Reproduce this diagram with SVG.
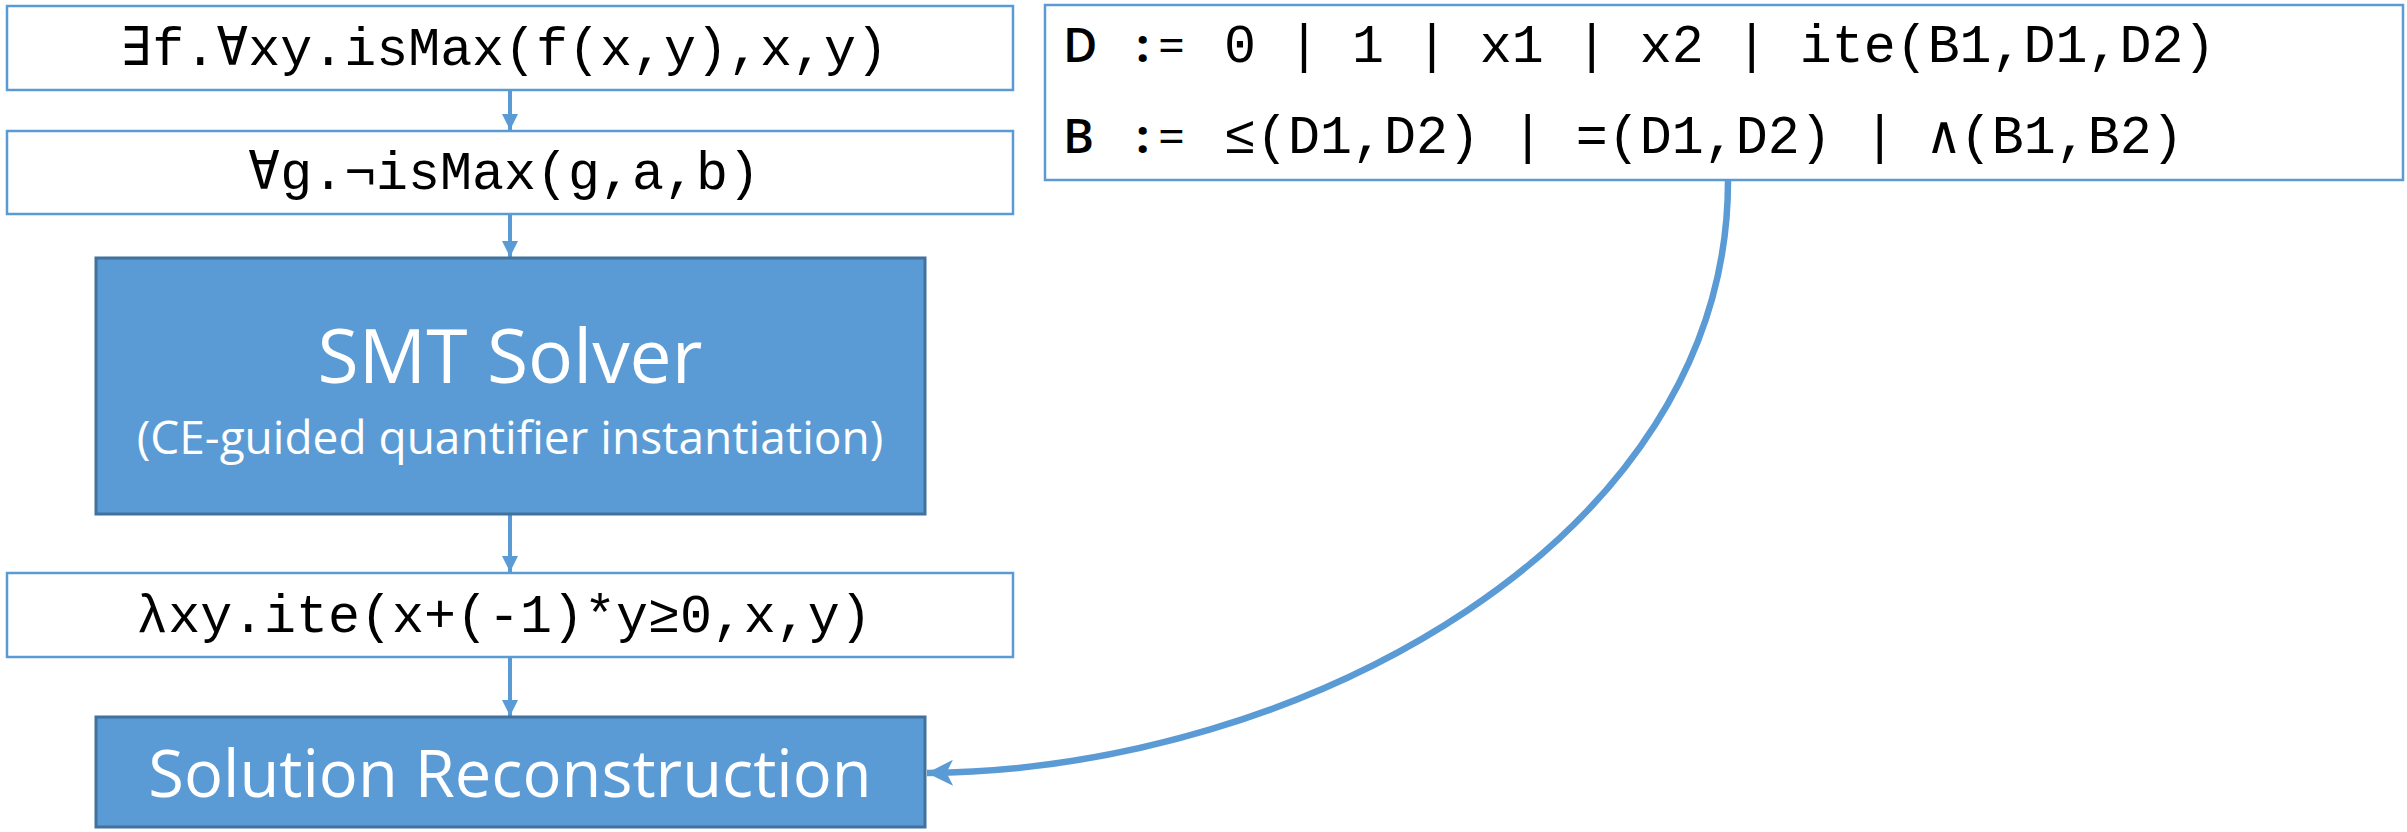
<svg xmlns="http://www.w3.org/2000/svg" width="2407" height="832" viewBox="0 0 2407 832">
<style>
.wbox{fill:#ffffff;stroke:#5B9BD5;stroke-width:2.5}
.fbox{fill:#5B9BD5;stroke:#41719C;stroke-width:3}
.mono{font-family:"Liberation Mono","DejaVu Sans Mono",monospace;font-size:53.3px;fill:#000}
.sans{font-family:"Open Sans","Noto Sans","Liberation Sans",sans-serif;fill:#ffffff}
.gs{font-family:"Open Sans","Noto Sans","Liberation Sans",sans-serif;font-size:47px;fill:#000}
.conn{fill:none;stroke:#5B9BD5;stroke-width:4}
.curve{fill:none;stroke:#5B9BD5;stroke-width:6.5}
</style>
<defs>
<marker id="ah" markerUnits="userSpaceOnUse" markerWidth="16" markerHeight="16" refX="14" refY="7" orient="auto" viewBox="0 0 14 14">
<path d="M0,0 L14,7 L0,14 z" fill="#5B9BD5"/>
</marker>
<marker id="ahBig" markerUnits="userSpaceOnUse" markerWidth="26" markerHeight="26" refX="24" refY="12" orient="auto" viewBox="0 0 24 24">
<path d="M0,0 L24,12 L0,24 L6,12 z" fill="#5B9BD5"/>
</marker>
</defs>
<rect width="2407" height="832" fill="#ffffff"/>
<g id="connectors">
<line class="conn" x1="510" y1="90" x2="510" y2="130" marker-end="url(#ah)"/>
<line class="conn" x1="510" y1="214" x2="510" y2="257" marker-end="url(#ah)"/>
<line class="conn" x1="510" y1="514" x2="510" y2="572" marker-end="url(#ah)"/>
<line class="conn" x1="510" y1="657" x2="510" y2="716" marker-end="url(#ah)"/>
<path class="curve" d="M1728,181 C1728,540 1300,770 927,773" marker-end="url(#ahBig)"/>
</g>
<g id="spec">
<rect class="wbox" x="7" y="6" width="1006" height="84"/>
<text class="mono" x="504" y="65" text-anchor="middle">∃f.∀xy.isMax(f(x,y),x,y)</text>
</g>
<g id="negated">
<rect class="wbox" x="7" y="131" width="1006" height="83"/>
<text class="mono" x="504" y="189" text-anchor="middle">∀g.¬isMax(g,a,b)</text>
</g>
<g id="smt">
<rect class="fbox" x="96" y="258" width="829" height="256"/>
<text class="sans" x="510" y="383" font-size="75" text-anchor="middle">SMT Solver</text>
<text class="sans" x="510" y="454" font-size="46" text-anchor="middle">(CE-guided quantifier instantiation)</text>
</g>
<g id="solution-term">
<rect class="wbox" x="7" y="573" width="1006" height="84"/>
<text class="mono" x="504" y="632" text-anchor="middle">λxy.ite(x+(-1)*y≥0,x,y)</text>
</g>
<g id="reconstruction">
<rect class="fbox" x="96" y="717" width="829" height="110"/>
<text class="sans" x="510" y="797" font-size="65" text-anchor="middle">Solution Reconstruction</text>
</g>
<g id="grammar">
<rect class="wbox" x="1045" y="5" width="1358" height="175"/>
<text class="gs" x="1063" y="62" font-weight="600">D</text>
<text class="gs" x="1136" y="62"><tspan font-weight="700">:</tspan><tspan x="1158">=</tspan></text>
<text class="mono" x="1224" y="62">0 | 1 | x1 | x2 | ite(B1,D1,D2)</text>
<text class="gs" x="1063" y="153" font-weight="600">B</text>
<text class="gs" x="1136" y="153"><tspan font-weight="700">:</tspan><tspan x="1158">=</tspan></text>
<text class="mono" x="1224" y="153">≤(D1,D2) | =(D1,D2) | ∧(B1,B2)</text>
</g>
</svg>
